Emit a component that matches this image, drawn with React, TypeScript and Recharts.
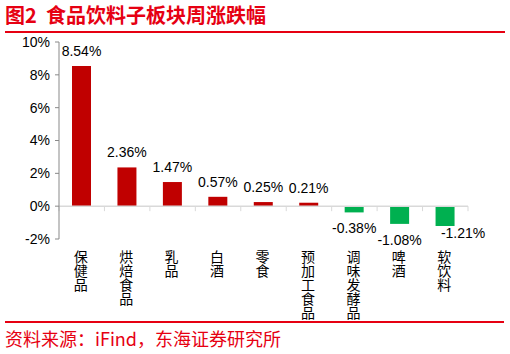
import { Bar, BarChart, Cell, LabelList, ReferenceLine, XAxis, YAxis } from "recharts";

const SECTORS = [
  "保健品",
  "烘焙食品",
  "乳品",
  "白酒",
  "零食",
  "预加工食品",
  "调味发酵品",
  "啤酒",
  "软饮料",
];
const WEEKLY_CHANGE = [8.54, 2.36, 1.47, 0.57, 0.25, 0.21, -0.38, -1.08, -1.21];
const Y_TICKS = [-2, 0, 2, 4, 6, 8, 10];

const UP_COLOR = "#c00000";
const DOWN_COLOR = "#00b050";
const BRAND_RED = "#e60012";
const AXIS_GRAY = "#898989";
const ZERO_GRAY = "#d9d9d9";
const NUM_FONT = '"Liberation Sans", Arial, sans-serif';
const CJK_FONT = '"Noto Sans CJK SC", "Noto Sans", sans-serif';

const data = SECTORS.map((name, i) => ({ name, value: WEEKLY_CHANGE[i] }));

// category names written top-to-bottom under the plot
function SectorTick(props: any) {
  const { x, y, payload } = props;
  return (
    <text
      x={x - 1}
      y={y + 11}
      fontSize={14}
      fontFamily={CJK_FONT}
      fill="#000"
      style={{ writingMode: "vertical-rl", textOrientation: "upright" }}
    >
      {payload.value}
    </text>
  );
}

// zero line with small ticks between categories
function ZeroAxis(props: any) {
  const { x1, x2, y1 } = props;
  const n = SECTORS.length;
  const step = (x2 - x1) / n;
  return (
    <g>
      <line x1={x1} x2={x2} y1={y1} y2={y1} stroke={ZERO_GRAY} strokeWidth={1.5} />
      {Array.from({ length: n + 1 }, (_, i) => (
        <line
          key={i}
          x1={x1 + i * step}
          x2={x1 + i * step}
          y1={y1}
          y2={y1 + 5}
          stroke={ZERO_GRAY}
          strokeWidth={1}
        />
      ))}
    </g>
  );
}

function ValueLabel(props: any) {
  const vb = props.viewBox ?? props;
  const { x, y, width, height } = vb;
  const value = Number(props.value);
  const top = Math.min(y, y + height);
  const bottom = Math.max(y, y + height);
  const last = props.index === SECTORS.length - 1;
  let ty = value >= 0 ? top - 10 : bottom + 21;
  let tx = x + width / 2;
  if (value < 0 && last) {
    tx += 18;
    ty -= 9;
  }
  return (
    <text
      x={tx}
      y={ty}
      textAnchor="middle"
      fontSize={14}
      fontFamily={NUM_FONT}
      fill="#000"
    >
      {`${value.toFixed(2)}%`}
    </text>
  );
}

export default function App() {
  return (
    <div
      style={{
        position: "absolute",
        left: 0,
        top: 0,
        width: 510,
        height: 354,
        background: "#fff",
      }}
    >
      <div
        style={{
          position: "absolute",
          left: 5,
          top: 3,
          fontSize: 20,
          lineHeight: "24px",
          fontWeight: 700,
          color: BRAND_RED,
          fontFamily: CJK_FONT,
          whiteSpace: "pre",
        }}
      >
        {"图2  食品饮料子板块周涨跌幅"}
      </div>
      <div
        style={{
          position: "absolute",
          left: 5,
          top: 31,
          width: 500,
          height: 2,
          background: BRAND_RED,
        }}
      />
      <div style={{ position: "absolute", left: 0, top: 0 }}>
        <BarChart
          width={510}
          height={330}
          data={data}
          margin={{ top: 42, right: 42, left: 0, bottom: 0 }}
          barSize={19}
        >
          <XAxis
            dataKey="name"
            height={91}
            axisLine={false}
            tickLine={false}
            tickSize={0}
            tickMargin={0}
            interval={0}
            tick={<SectorTick />}
          />
          <YAxis
            width={59}
            domain={[-2, 10]}
            ticks={Y_TICKS}
            interval={0}
            tickFormatter={(v) => `${v}%`}
            axisLine={{ stroke: AXIS_GRAY }}
            tickLine={{ stroke: AXIS_GRAY }}
            tickSize={4}
            tickMargin={5}
            tick={{ fontSize: 14, fontFamily: NUM_FONT, fill: "#000" }}
          />
          <ReferenceLine y={0} shape={<ZeroAxis />} />
          <Bar dataKey="value" isAnimationActive={false}>
            {data.map((d, i) => (
              <Cell key={i} fill={d.value >= 0 ? UP_COLOR : DOWN_COLOR} />
            ))}
            <LabelList dataKey="value" content={<ValueLabel />} />
          </Bar>
        </BarChart>
      </div>
      <div
        style={{
          position: "absolute",
          left: 5,
          top: 321,
          width: 499,
          height: 2,
          background: BRAND_RED,
        }}
      />
      <div
        style={{
          position: "absolute",
          left: 5,
          top: 326,
          fontSize: 18,
          lineHeight: "24px",
          color: BRAND_RED,
          fontFamily: CJK_FONT,
          whiteSpace: "pre",
        }}
      >
        资料来源：iFind，东海证券研究所
      </div>
    </div>
  );
}
